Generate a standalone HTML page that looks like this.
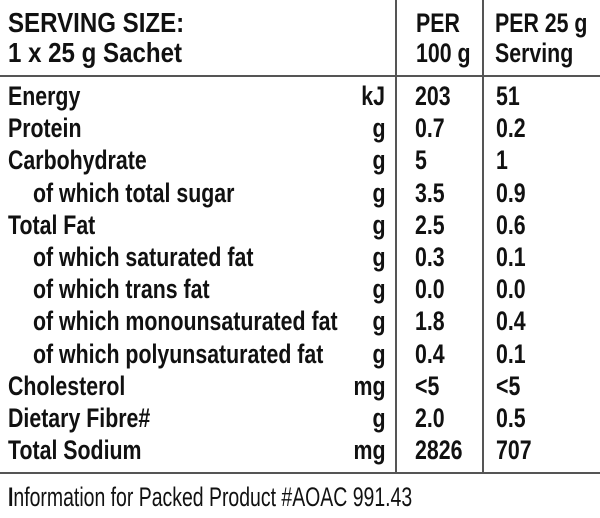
<!DOCTYPE html>
<html><head><style>
body{margin:0;width:600px;height:518px;background:#fff;position:relative;overflow:hidden;font-family:"Liberation Sans",sans-serif;color:#111}
.t{position:absolute;white-space:nowrap;font-size:27px;line-height:30px;font-weight:bold;transform:scaleX(0.79);transform-origin:left center}
.r{transform-origin:right center}
.hd{font-size:28px;transform:scaleX(0.86)}
.h{position:absolute;left:0;width:600px;height:2px;background:#555}
.v{position:absolute;width:2px;background:#555}
</style></head><body>
<div class="h" style="top:75px"></div>
<div class="h" style="top:472px"></div>
<div class="v" style="left:395px;top:0;height:474px"></div>
<div class="v" style="left:482px;top:0;height:474px"></div>
<div class="t hd" style="left:8px;top:8px">SERVING SIZE:</div>
<div class="t hd" style="left:8px;top:38px">1 x 25 g Sachet</div>
<div class="t" style="left:416px;top:8px">PER</div>
<div class="t" style="left:416px;top:38px">100 g</div>
<div class="t" style="left:495px;top:8px">PER 25 g</div>
<div class="t" style="left:495px;top:38px">Serving</div>
<div id="rows"></div>
<div class="t" style="left:8px;top:482px;font-weight:normal;transform:scaleX(0.72)"><b>I</b>nformation for Packed Product #AOAC 991.43</div>
<script>
var d=[["Energy","kJ","203","51",0],["Protein","g","0.7","0.2",0],["Carbohydrate","g","5","1",0],["of which total sugar","g","3.5","0.9",1],["Total Fat","g","2.5","0.6",0],["of which saturated fat","g","0.3","0.1",1],["of which trans fat","g","0.0","0.0",1],["of which monounsaturated fat","g","1.8","0.4",1],["of which polyunsaturated fat","g","0.4","0.1",1],["Cholesterol","mg","<5","<5",0],["Dietary Fibre#","g","2.0","0.5",0],["Total Sodium","mg","2826","707",0]];
var h="";
d.forEach(function(r,i){var y=81+i*32.2;
h+='<div class="t" style="left:'+(r[4]?33:8)+'px;top:'+y+'px">'+r[0].replace("<","&lt;")+'</div>';
h+='<div class="t r" style="right:215px;top:'+y+'px">'+r[1]+'</div>';
h+='<div class="t" style="left:415px;top:'+y+'px">'+r[2].replace("<","&lt;")+'</div>';
h+='<div class="t" style="left:496px;top:'+y+'px">'+r[3].replace("<","&lt;")+'</div>';});
document.getElementById("rows").innerHTML=h;
</script>
</body></html>
